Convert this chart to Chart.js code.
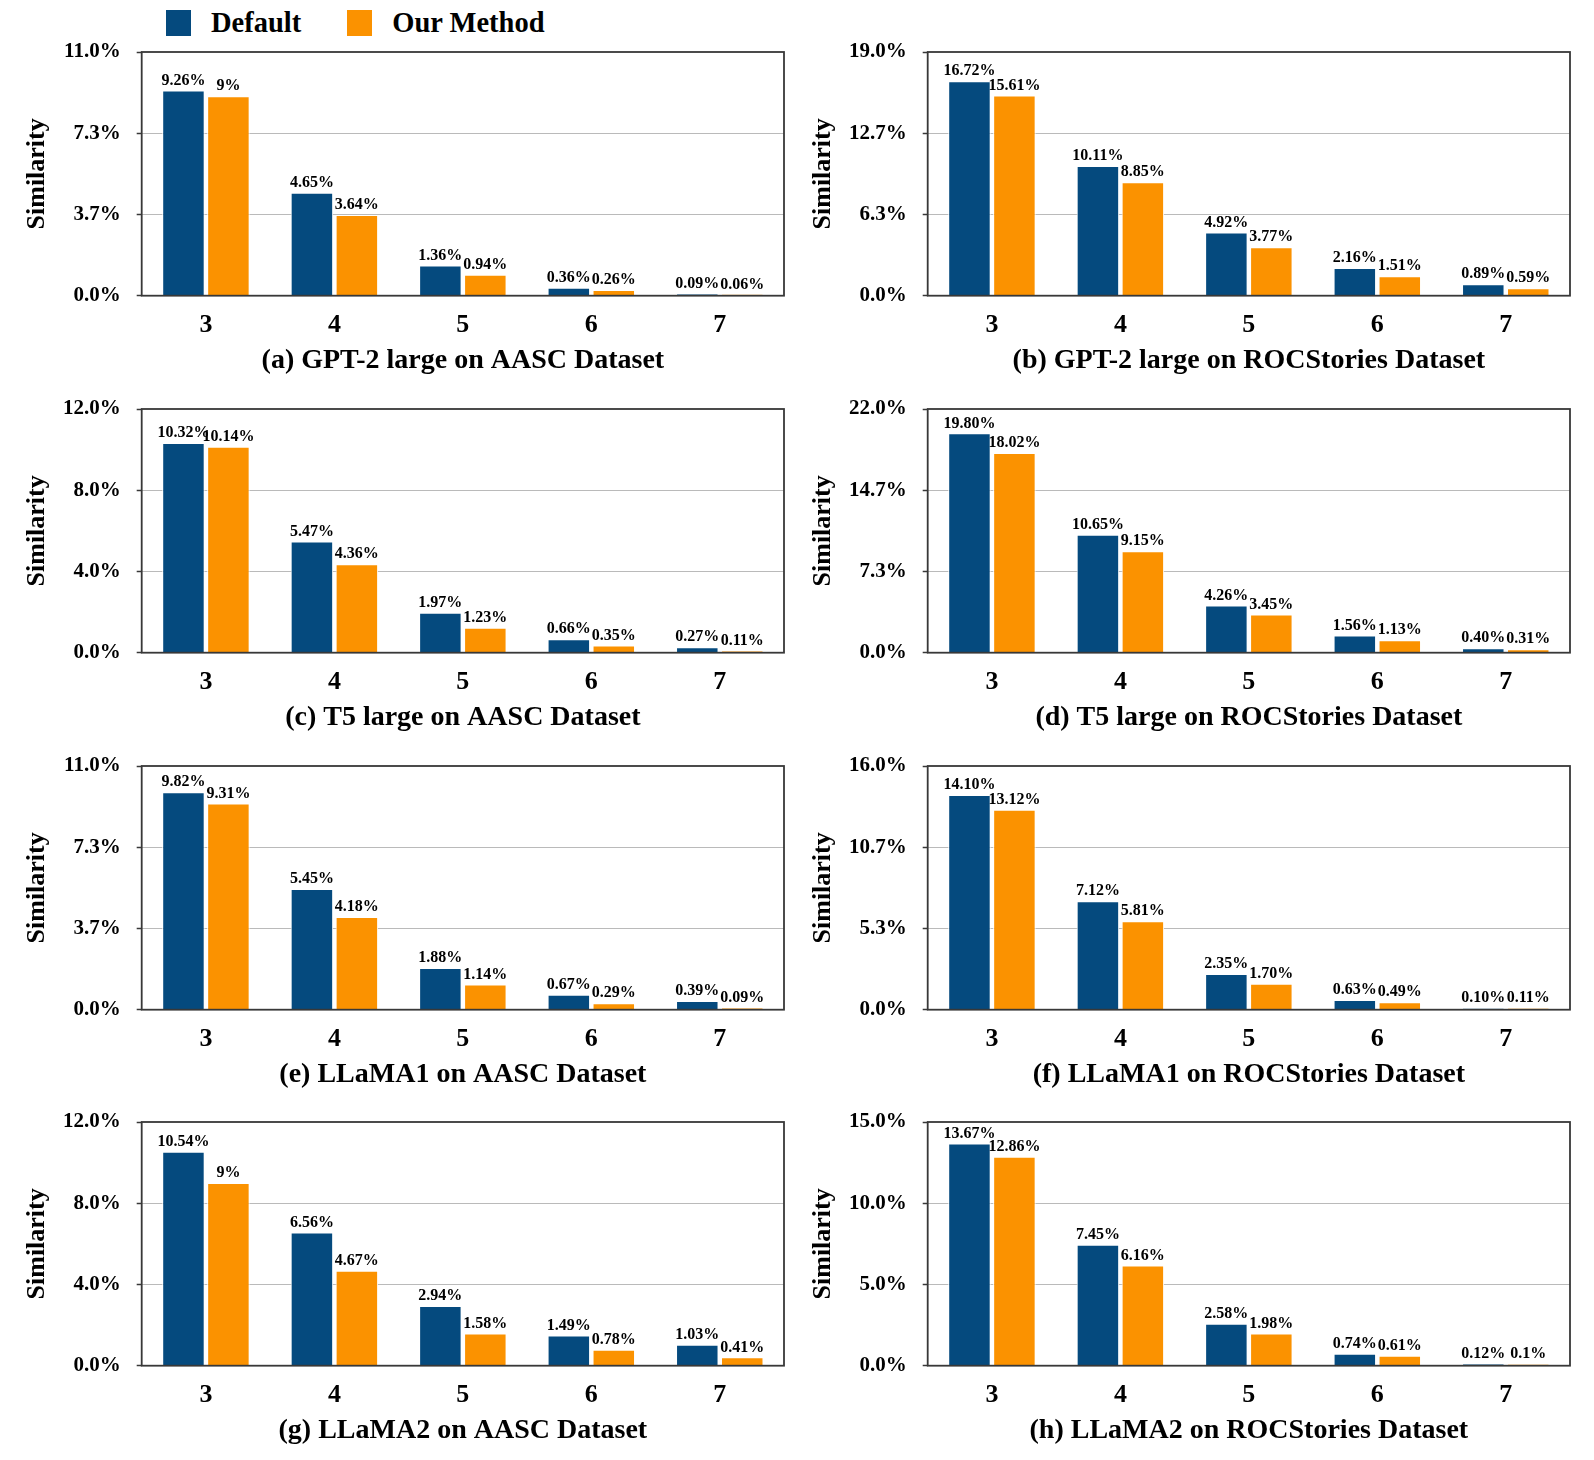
<!DOCTYPE html>
<html>
<head>
<meta charset="utf-8">
<script src="https://cdn.jsdelivr.net/npm/chart.js@4.4.0/dist/chart.umd.min.js"></script>
<style>
  body { margin: 0; background: #fff; width: 1594px; height: 1460px; position: relative; overflow: hidden; font-family: "Liberation Serif", "Times New Roman", serif; }
  .legend { position: absolute; top: 7px; left: 166px; display: flex; align-items: center; font-weight: bold; font-size: 28.5px; color: #000; }
  .item { display: flex; align-items: center; margin-right: 46px; }
  .sw { width: 25px; height: 26px; display: inline-block; margin-right: 20px; }
  canvas { position: absolute; }
</style>
</head>
<body>
<div class="legend">
  <div class="item"><span class="sw" style="background:#054a7e"></span>Default</div>
  <div class="item"><span class="sw" style="background:#fb9200"></span>Our Method</div>
</div>
<script>
const categories = ['3', '4', '5', '6', '7'];

// values kept as text so the labels print exactly as in the figure
const gpt2AascDefault = ['9.26', '4.65', '1.36', '0.36', '0.09'];
const gpt2AascOurs    = ['9', '3.64', '0.94', '0.26', '0.06'];
const gpt2RocDefault  = ['16.72', '10.11', '4.92', '2.16', '0.89'];
const gpt2RocOurs     = ['15.61', '8.85', '3.77', '1.51', '0.59'];
const t5AascDefault   = ['10.32', '5.47', '1.97', '0.66', '0.27'];
const t5AascOurs      = ['10.14', '4.36', '1.23', '0.35', '0.11'];
const t5RocDefault    = ['19.80', '10.65', '4.26', '1.56', '0.40'];
const t5RocOurs       = ['18.02', '9.15', '3.45', '1.13', '0.31'];
const llama1AascDefault = ['9.82', '5.45', '1.88', '0.67', '0.39'];
const llama1AascOurs    = ['9.31', '4.18', '1.14', '0.29', '0.09'];
const llama1RocDefault  = ['14.10', '7.12', '2.35', '0.63', '0.10'];
const llama1RocOurs     = ['13.12', '5.81', '1.70', '0.49', '0.11'];
const llama2AascDefault = ['10.54', '6.56', '2.94', '1.49', '1.03'];
const llama2AascOurs    = ['9', '4.67', '1.58', '0.78', '0.41'];
const llama2RocDefault  = ['13.67', '7.45', '2.58', '0.74', '0.12'];
const llama2RocOurs     = ['12.86', '6.16', '1.98', '0.61', '0.1'];

const yMax = [11, 19, 12, 22, 11, 16, 12, 15];
const captions = [
  '(a) GPT-2 large on AASC Dataset',
  '(b) GPT-2 large on ROCStories Dataset',
  '(c) T5 large on AASC Dataset',
  '(d) T5 large on ROCStories Dataset',
  '(e) LLaMA1 on AASC Dataset',
  '(f) LLaMA1 on ROCStories Dataset',
  '(g) LLaMA2 on AASC Dataset',
  '(h) LLaMA2 on ROCStories Dataset'
];
const defaultSeries = [gpt2AascDefault, gpt2RocDefault, t5AascDefault, t5RocDefault,
  llama1AascDefault, llama1RocDefault, llama2AascDefault, llama2RocDefault];
const oursSeries = [gpt2AascOurs, gpt2RocOurs, t5AascOurs, t5RocOurs,
  llama1AascOurs, llama1RocOurs, llama2AascOurs, llama2RocOurs];

const FONT = '"Liberation Serif", "Times New Roman", serif';

const frame = {
  id: 'frame',
  afterDatasetsDraw(chart) {
    const a = chart.chartArea, ctx = chart.ctx;
    ctx.save();
    ctx.strokeStyle = '#383838';
    ctx.lineWidth = 1.8;
    ctx.strokeRect(a.left, a.top, a.right - a.left, a.bottom - a.top);
    ctx.restore();
  }
};

const barLabels = {
  id: 'barLabels',
  afterDraw(chart) {
    const ctx = chart.ctx;
    ctx.save();
    ctx.font = 'bold 16px ' + FONT;
    ctx.fillStyle = '#000';
    ctx.textAlign = 'center';
    ctx.textBaseline = 'bottom';
    chart.data.datasets.forEach((ds, i) => {
      chart.getDatasetMeta(i).data.forEach((bar, j) => {
        ctx.fillText(ds.labels[j] + '%', bar.x, bar.y - 2);
      });
    });
    ctx.restore();
  }
};

for (let i = 0; i < 8; i++) {
  const col = i % 2, row = Math.floor(i / 2);
  const cv = document.createElement('canvas');
  cv.width = 800; cv.height = 357;
  cv.style.left = (col * 786) + 'px';
  cv.style.top = (30 + row * 356.8) + 'px';
  document.body.appendChild(cv);
  const M = yMax[i];

  new Chart(cv.getContext('2d'), {
    type: 'bar',
    data: {
      labels: categories,
      datasets: [{
        label: 'Default',
        data: defaultSeries[i].map(Number),
        labels: defaultSeries[i],
        backgroundColor: '#054a7e',
        borderColor: '#fff',
        borderWidth: 1,
        categoryPercentage: 0.70,
        barPercentage: 0.945
      }, {
        label: 'Our Method',
        data: oursSeries[i].map(Number),
        labels: oursSeries[i],
        backgroundColor: '#fb9200',
        borderColor: '#fff',
        borderWidth: 1,
        categoryPercentage: 0.70,
        barPercentage: 0.945
      }]
    },
    options: {
      responsive: false,
      animation: false,
      layout: { padding: { left: 22, right: 16, top: 22, bottom: 0 } },
      plugins: { legend: { display: false }, tooltip: { enabled: false } },
      scales: {
        x: {
          grid: { display: false, drawTicks: false },
          border: { display: false },
          ticks: { color: '#000', padding: 14, font: { family: FONT, size: 26, weight: 'bold' } },
          title: {
            display: true, text: captions[i], color: '#000',
            font: { family: FONT, size: 28, weight: 'bold' },
            padding: { top: 0, bottom: 9 }
          },
          afterFit: s => { s.height = 91.3; }
        },
        y: {
          min: 0, max: M,
          afterBuildTicks: s => { s.ticks = [0, 1, 2, 3].map(k => ({ value: M * k / 3 })); },
          grid: {
            color: c => (c.index === 0 || c.index === 3) ? 'rgba(0,0,0,0)' : '#a8a8a8',
            borderDash: [2, 2],
            tickColor: '#383838',
            tickBorderDash: [],
            tickLength: 5,
            lineWidth: 0.8,
            tickWidth: 1.5
          },
          border: { display: false },
          ticks: {
            color: '#000', padding: 16,
            font: { family: FONT, size: 21, weight: 'bold' },
            callback: v => v.toFixed(1) + '%'
          },
          title: {
            display: true, text: 'Similarity', color: '#000',
            font: { family: FONT, size: 26, weight: 'bold' },
            padding: 0
          },
          afterFit: s => { s.width = 141.7 - 22; s.paddingTop = 0; s.paddingBottom = 0; }
        }
      }
    },
    plugins: [frame, barLabels]
  });
}
</script>
</body>
</html>
